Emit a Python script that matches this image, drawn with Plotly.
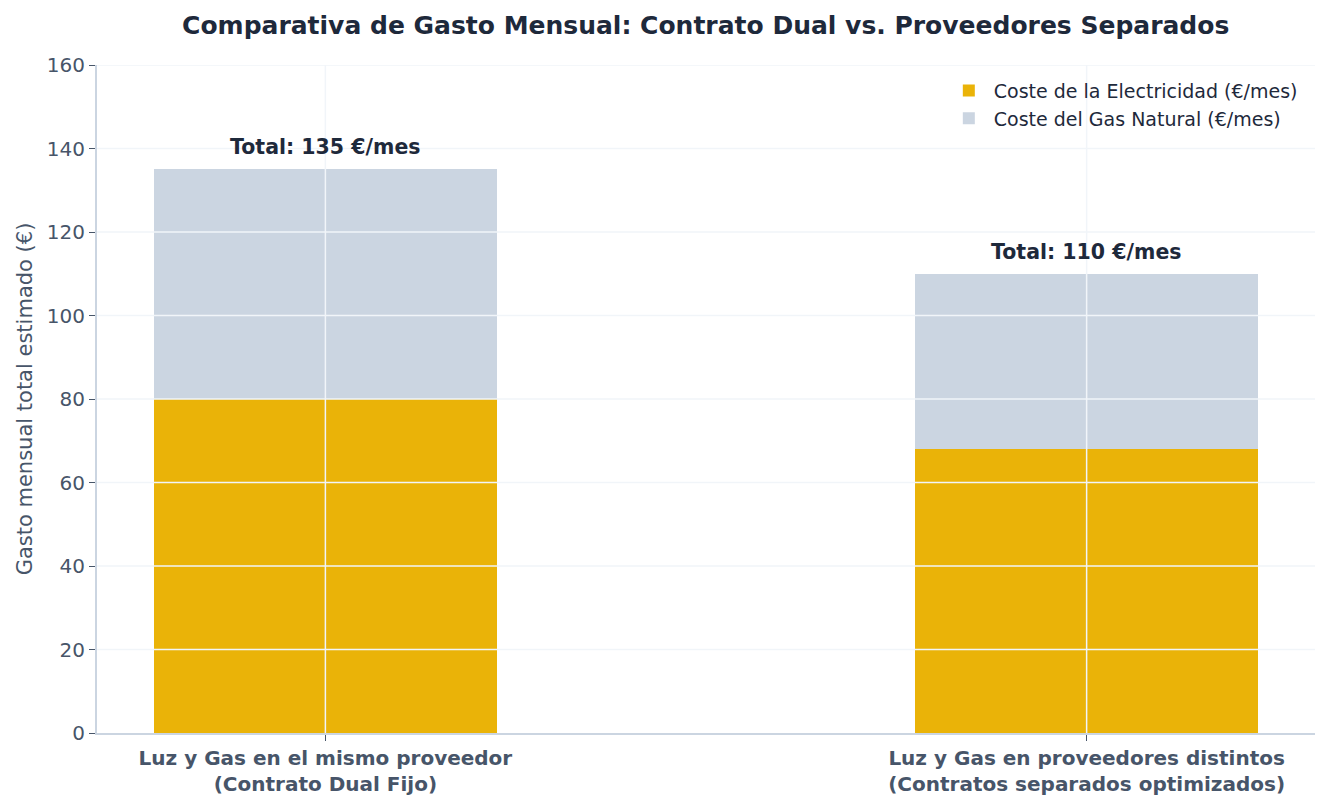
import plotly.graph_objects as go

categories = ["Luz y Gas en el mismo proveedor<br>(Contrato Dual Fijo)",
              "Luz y Gas en proveedores distintos<br>(Contratos separados optimizados)"]
electricidad = [80, 68]
gas = [55, 42]
totales = [e + g for e, g in zip(electricidad, gas)]
y_ticks = [0, 20, 40, 60, 80, 100, 120, 140, 160]

FONT = "DejaVu Sans"
fig = go.Figure()
fig.add_trace(go.Bar(x=categories, y=electricidad, name="Coste de la Electricidad (€/mes)",
                     marker=dict(color="#EAB308", line=dict(width=0)), width=0.45))
fig.add_trace(go.Bar(x=categories, y=gas, name="Coste del Gas Natural (€/mes)",
                     marker=dict(color="#CBD5E1", line=dict(width=0)), width=0.45))

for c, t in zip(categories, totales):
    fig.add_annotation(x=c, y=t, text=f"<b>Total: {t} €/mes</b>", showarrow=False,
                       yanchor="bottom", yshift=8,
                       font=dict(family=FONT, size=20.5, color="#1E293B"))

# gridlines drawn above bars
for v in y_ticks[1:]:
    fig.add_shape(type="line", xref="paper", yref="y", x0=0, x1=1, y0=v, y1=v,
                  line=dict(color="#F1F5F9", width=1.5), layer="above")
for c in categories:
    fig.add_shape(type="line", xref="x", yref="paper", x0=c, x1=c, y0=0, y1=1,
                  line=dict(color="#F1F5F9", width=1.5), layer="above")

fig.update_layout(
    barmode="stack",
    width=1329, height=810,
    margin=dict(l=97, r=14, t=65, b=77),
    paper_bgcolor="white", plot_bgcolor="white",
    font=dict(family=FONT, color="#475569"),
    title=dict(text="<b>Comparativa de Gasto Mensual: Contrato Dual vs. Proveedores Separados</b>",
               x=0.531, xanchor="center", y=0.969, yanchor="middle",
               font=dict(family=FONT, size=25, color="#1E293B")),
    legend=dict(x=0.99, xanchor="right", y=0.99, yanchor="top",
                bgcolor="rgba(0,0,0,0)", font=dict(family=FONT, size=19, color="#1E293B"),
                traceorder="normal", itemwidth=40),
    showlegend=True,
)
fig.update_xaxes(range=[-0.3, 1.3], showgrid=False, showline=True, linecolor="#CBD5E1", linewidth=2,
                 ticks="outside", ticklen=6, tickcolor="#475569",
                 tickfont=dict(family=FONT, size=20, color="#475569"),
                 tickprefix="<b>", ticksuffix="</b>")
fig.update_yaxes(range=[0, 160], tickvals=y_ticks, showgrid=False, zeroline=False,
                 showline=True, linecolor="#CBD5E1", linewidth=2,
                 ticks="outside", ticklen=6, tickcolor="#475569",
                 tickfont=dict(family=FONT, size=20, color="#475569"),
                 title=dict(text="Gasto mensual total estimado (€)",
                            font=dict(family=FONT, size=21, color="#475569"), standoff=8))

fig.write_html("out.html")
